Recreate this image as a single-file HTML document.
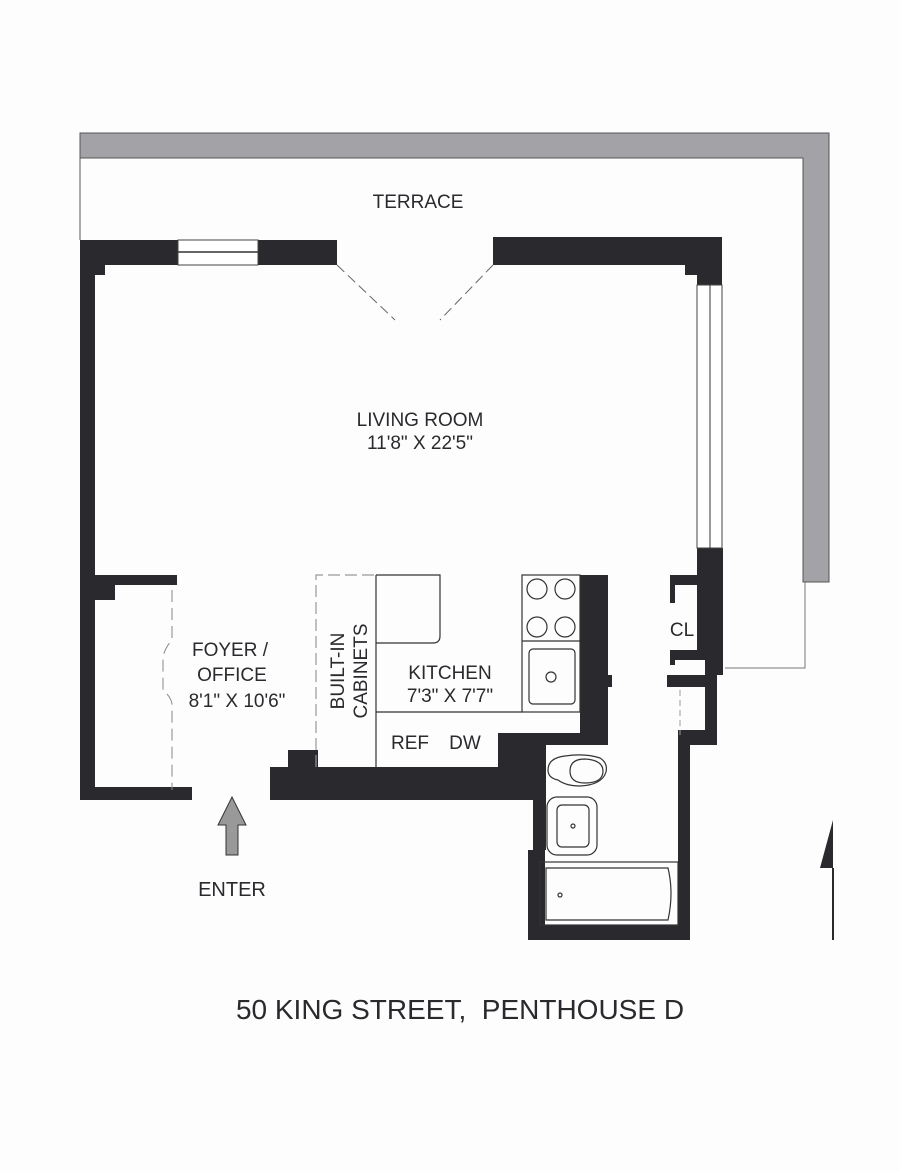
<!DOCTYPE html>
<html><head><style>
html,body{margin:0;padding:0;background:#fff;}
svg{display:block}
text{font-family:"Liberation Sans",sans-serif;fill:#2a2a2e}
</style></head><body>
<svg width="900" height="1171" viewBox="0 0 900 1171" xmlns="http://www.w3.org/2000/svg">
<rect width="900" height="1171" fill="#fdfdfd"/>
<path d="M80 133 H829 V582 H803 V158 H80 Z" fill="#a3a3a7" stroke="#555" stroke-width="1"/>
<line x1="80" y1="158" x2="80" y2="240" stroke="#555"/>
<polyline points="805,582 805,668 725,668" fill="none" stroke="#777"/>
<g fill="#2a2a2e">
<rect x="80" y="240" width="257" height="25"/>
<rect x="80" y="265" width="25" height="10"/>
<rect x="80" y="265" width="15" height="535"/>
<rect x="493" y="237" width="229" height="28"/>
<rect x="685" y="265" width="37" height="10"/>
<rect x="697" y="265" width="25" height="20"/>
<rect x="697" y="548" width="26" height="112"/>
<rect x="670" y="575" width="27" height="10"/>
<rect x="670" y="585" width="5" height="18"/>
<rect x="670" y="650" width="27" height="10"/>
<rect x="670" y="655" width="5" height="10"/>
<rect x="667" y="675" width="48" height="12"/>
<rect x="705" y="660" width="18" height="15"/>
<rect x="705" y="673" width="12" height="72"/>
<rect x="678" y="730" width="12" height="210"/>
<rect x="690" y="730" width="27" height="15"/>
<rect x="95" y="575" width="82" height="10"/>
<rect x="95" y="585" width="20" height="15"/>
<rect x="80" y="787" width="112" height="13"/>
<rect x="580" y="575" width="28" height="170"/>
<rect x="607" y="675" width="5" height="12"/>
<rect x="498" y="733" width="82" height="12"/>
<rect x="498" y="733" width="37" height="67"/>
<rect x="533" y="745" width="13" height="105"/>
<rect x="528" y="850" width="17" height="90"/>
<rect x="528" y="925" width="162" height="15"/>
<rect x="270" y="767" width="265" height="33"/>
<rect x="288" y="750" width="30" height="50"/>
</g>
<rect x="178" y="240" width="80" height="25" fill="#fff" stroke="#444"/>
<line x1="178" y1="252" x2="258" y2="252" stroke="#333" stroke-width="1.5"/>
<rect x="697" y="285" width="25" height="263" fill="#fff" stroke="#444"/>
<line x1="710" y1="285" x2="710" y2="548" stroke="#333"/>
<line x1="337" y1="265" x2="395" y2="320" stroke="#666" stroke-dasharray="10,5"/>
<line x1="493" y1="265" x2="440" y2="320" stroke="#666" stroke-dasharray="10,5"/>
<path d="M172 590 V640 Q163 650 163 660 V690 Q172 698 172 705 V790" fill="none" stroke="#888" stroke-dasharray="12,6"/>
<line x1="680" y1="690" x2="680" y2="735" stroke="#999" stroke-dasharray="6,4"/>
<g fill="none" stroke="#333" stroke-width="1.2">
<path d="M316 767 V575 H376" stroke="#999" stroke-dasharray="12,5"/>
<line x1="376" y1="575" x2="376" y2="767"/>
<path d="M376 575 H440 V636 Q440 643 433 643 H376"/>
<line x1="376" y1="712" x2="522" y2="712"/>
<rect x="522" y="575" width="58" height="137"/>
<line x1="522" y1="641" x2="580" y2="641"/>
<circle cx="537" cy="589" r="10"/><circle cx="565" cy="589" r="10"/>
<circle cx="537" cy="627" r="10"/><circle cx="565" cy="627" r="10"/>
<rect x="529" y="649" width="46" height="55" rx="4"/>
<circle cx="551" cy="677" r="5"/>
<path d="M548 770 Q548 758 565 756 Q585 753 600 758 Q608 763 606 772 Q602 785 580 786 Q566 786 558 780 Q548 778 548 770Z"/>
<path d="M570 771 Q570 759 585 759 Q603 760 603 771 Q603 783 585 783 Q570 783 570 771Z"/>
<rect x="547" y="797" width="50" height="58" rx="10"/>
<rect x="557" y="805" width="32" height="42" rx="5"/>
<circle cx="573" cy="826" r="2"/>
<rect x="540" y="862" width="138" height="63"/>
<path d="M546 868 H668 Q674 893 668 920 H546 Z"/>
<circle cx="560" cy="895" r="2"/>
</g>
<path d="M833 820 L820 868 H833 Z" fill="#2a2a2e"/>
<line x1="833" y1="868" x2="833" y2="940" stroke="#2a2a2e" stroke-width="2"/>
<path d="M226 855 V825 H218 L232 797 L246 825 H238 V855 Z" fill="#999" stroke="#333"/>
<g font-size="19" text-anchor="middle">
<text x="418" y="208">TERRACE</text>
<text x="420" y="426">LIVING ROOM</text>
<text x="420" y="449">11'8" X 22'5"</text>
<text x="230" y="656">FOYER /</text>
<text x="232" y="681">OFFICE</text>
<text x="237" y="707">8'1" X 10'6"</text>
<text x="450" y="679">KITCHEN</text>
<text x="450" y="702">7'3" X 7'7"</text>
<text x="410" y="749">REF</text>
<text x="465" y="749">DW</text>
<text x="682" y="636">CL</text>
<text x="232" y="896" font-size="20">ENTER</text>
<text transform="translate(344,671) rotate(-90)">BUILT-IN</text>
<text transform="translate(367,671) rotate(-90)">CABINETS</text>
<text x="460" y="1019" font-size="28" xml:space="preserve">50 KING STREET,  PENTHOUSE D</text>
</g>
</svg>
</body></html>
